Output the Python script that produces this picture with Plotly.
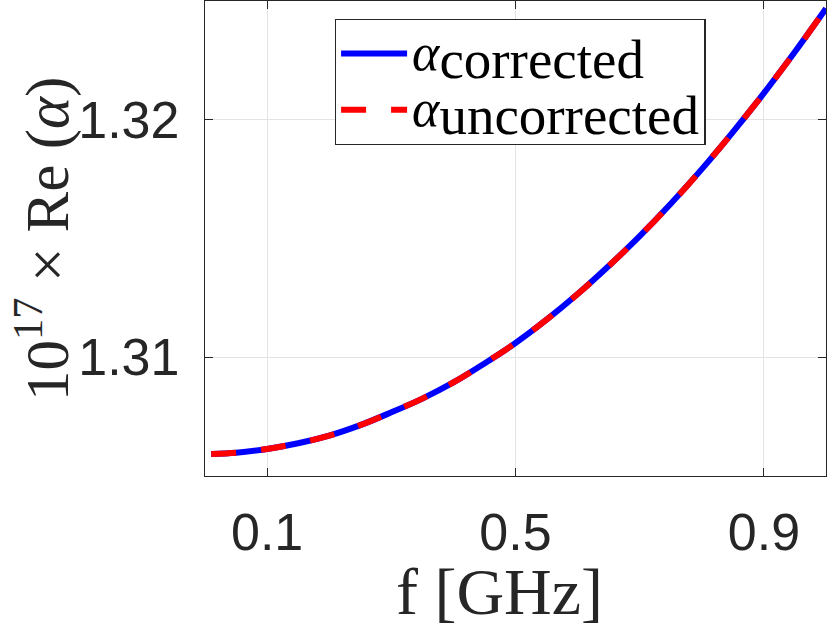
import plotly.graph_objects as go

# Frequency [GHz]
freq = [0.01, 0.05, 0.10, 0.15, 0.20, 0.25, 0.30, 0.35, 0.40, 0.45, 0.50,
        0.55, 0.60, 0.65, 0.70, 0.75, 0.80, 0.85, 0.90, 0.95, 1.00]
# 1e17 x Re(alpha), corrected
alpha_corrected = [1.30593, 1.30598, 1.30614, 1.30638, 1.30670, 1.30714, 1.30768,
                   1.30826, 1.30894, 1.30974, 1.31060, 1.31158, 1.31266, 1.31384,
                   1.31510, 1.31646, 1.31792, 1.31948, 1.32112, 1.32286, 1.32468]
# 1e17 x Re(alpha), uncorrected
alpha_uncorrected = [1.30593, 1.30598, 1.30614, 1.30638, 1.30670, 1.30714, 1.30768,
                     1.30826, 1.30894, 1.30974, 1.31060, 1.31158, 1.31266, 1.31384,
                     1.31510, 1.31646, 1.31792, 1.31948, 1.32112, 1.32286, 1.32468]

x_ticks = [0.1, 0.5, 0.9]
x_ticklabels = ["0.1", "0.5", "0.9"]
y_ticks = [1.31, 1.32]
y_ticklabels = ["1.31", "1.32"]

x_title = "f [GHz]"
y_title = "10<sup>17</sup> × Re (<i>α</i>)"

AX = "#262626"
SERIF = "Liberation Serif"
SANS = "Liberation Sans"


def legend_label(sub):
    return ("<span style='font-size:52px'><i>α</i></span>"
            "<sub><span style='font-size:55px'>" + sub + "</span></sub>")


fig = go.Figure()
fig.add_trace(go.Scatter(
    x=freq, y=alpha_corrected, mode="lines", line_shape="spline",
    name=legend_label("corrected"),
    line=dict(color="#0000ff", width=6),
))
fig.add_trace(go.Scatter(
    x=freq, y=alpha_uncorrected, mode="lines", line_shape="spline",
    name=legend_label("uncorrected"),
    line=dict(color="#ff0000", width=6, dash="25px,25px"),
))

axis_common = dict(
    showline=True, linecolor=AX, linewidth=1.3, mirror="ticks",
    ticks="inside", ticklen=8, tickwidth=1.3, tickcolor=AX,
    showgrid=True, gridcolor="#e3e3e3", gridwidth=1.3,
    zeroline=False, automargin=False,
    tickfont=dict(family=SANS, size=52, color=AX),
)

fig.update_layout(
    width=830, height=628,
    margin=dict(l=205, r=4, t=1, b=152),
    paper_bgcolor="white", plot_bgcolor="white",
    xaxis=dict(
        range=[0, 1], tickvals=x_ticks, ticktext=x_ticklabels,
        ticklabelstandoff=10,
        **axis_common,
    ),
    yaxis=dict(
        range=[1.305, 1.325], tickvals=y_ticks, ticktext=y_ticklabels,
        ticklabelstandoff=14,
        **axis_common,
    ),
    legend=dict(
        x=0.209, y=0.962, xanchor="left", yanchor="top",
        bgcolor="white", bordercolor=AX, borderwidth=1.3,
        font=dict(family=SERIF, size=41, color="black"),
        tracegroupgap=0, itemwidth=66,
    ),
    showlegend=True,
    annotations=[
        dict(text=x_title, xref="paper", yref="paper", x=0.4747, y=0,
             xanchor="center", yanchor="middle", yshift=-115, showarrow=False,
             font=dict(family=SERIF, size=66, color=AX)),
        dict(text=y_title, xref="paper", yref="paper", x=0, y=0.499,
             xanchor="center", yanchor="middle", xshift=-162, textangle=-90,
             showarrow=False, font=dict(family=SERIF, size=61, color=AX)),
    ],
)

fig.write_html("out.html", config={"displayModeBar": False},
               post_script="document.body.style.margin='0';document.body.style.overflow='hidden';")
